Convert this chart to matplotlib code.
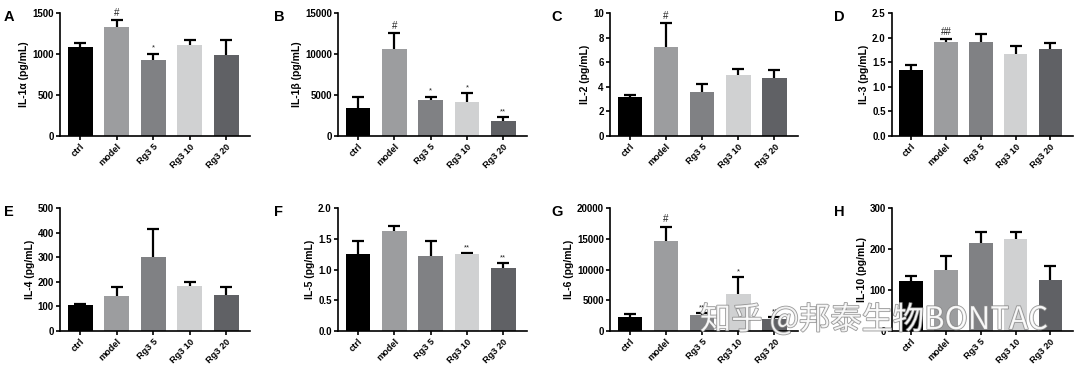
import matplotlib
matplotlib.use('Agg')
import matplotlib.pyplot as plt
import matplotlib.patheffects as pe
import numpy as np

plt.rcParams['font.family'] = ['Liberation Sans', 'DejaVu Sans']
plt.rcParams['font.weight'] = 'bold'

# groups
groups = ['ctrl', 'model', 'Rg3 5', 'Rg3 10', 'Rg3 20']
colors = ['#000000', '#9c9d9f', '#808184', '#d0d1d2', '#606165']

# panel data (mean, error)
il1a = [1087, 1324, 928, 1107, 989]
il1a_err = [53, 94, 77, 66, 176]
il1b = [3370, 10560, 4400, 4190, 1770]
il1b_err = [1400, 2010, 410, 1030, 530]
il2 = [3.17, 7.27, 3.58, 4.97, 4.73]
il2_err = [0.19, 1.91, 0.68, 0.44, 0.60]
il3 = [1.35, 1.91, 1.91, 1.67, 1.76]
il3_err = [0.09, 0.06, 0.16, 0.16, 0.14]
il4 = [105, 141, 299, 181, 145]
il4_err = [5, 38, 117, 20, 34]
il5 = [1.26, 1.63, 1.22, 1.255, 1.02]
il5_err = [0.20, 0.08, 0.24, 0.01, 0.08]
il6 = [2300, 14575, 2575, 6080, 1920]
il6_err = [440, 2410, 300, 2630, 350]
il10 = [121, 150, 214, 224, 124]
il10_err = [14, 34, 28, 18, 35]

# significance marks
marks_a = ['', '#', '*', '', '']
marks_b = ['', '#', '*', '*', '**']
marks_c = ['', '#', '', '', '']
marks_d = ['', '##', '', '', '']
marks_e = ['', '', '', '', '']
marks_f = ['', '', '', '**', '**']
marks_g = ['', '#', '**', '*', '**']
marks_h = ['', '', '', '', '']

panels = [
    ('A', 'IL-1α (pg/mL)', il1a, il1a_err, marks_a, [0, 500, 1000, 1500], 1500),
    ('B', 'IL-1β (pg/mL)', il1b, il1b_err, marks_b, [0, 5000, 10000, 15000], 15000),
    ('C', 'IL-2 (pg/mL)', il2, il2_err, marks_c, [0, 2, 4, 6, 8, 10], 10),
    ('D', 'IL-3 (pg/mL)', il3, il3_err, marks_d, [0.0, 0.5, 1.0, 1.5, 2.0, 2.5], 2.5),
    ('E', 'IL-4 (pg/mL)', il4, il4_err, marks_e, [0, 100, 200, 300, 400, 500], 500),
    ('F', 'IL-5 (pg/mL)', il5, il5_err, marks_f, [0.0, 0.5, 1.0, 1.5, 2.0], 2.0),
    ('G', 'IL-6 (pg/mL)', il6, il6_err, marks_g, [0, 5000, 10000, 15000, 20000], 20000),
    ('H', 'IL-10 (pg/mL)', il10, il10_err, marks_h, [0, 100, 200, 300], 300),
]

fmt = {'D': '%.1f', 'F': '%.1f'}

fig = plt.figure(figsize=(10.8, 3.65), dpi=100)
lefts = [60, 338, 610, 892]
widths = [190, 189, 188, 181]
tops = [13, 208]
label_x = [4, 274, 551, 834]

for i, (lab, ylab, vals, errs, marks, ticks, ymax) in enumerate(panels):
    row, col = divmod(i, 4)
    top = tops[row]
    ax = fig.add_axes([lefts[col] / 1080, 1 - (top + 123) / 365,
                       widths[col] / 1080, 123 / 365])
    x = np.arange(len(groups))
    # errors drawn behind the bars, so only the upper half shows
    ax.errorbar(x, vals, yerr=errs, fmt='none', ecolor='black',
                elinewidth=1.6, capsize=4.5, capthick=1.6, zorder=1)
    ax.bar(x, vals, width=0.68, color=colors, zorder=2)
    for xi, v, e, m in zip(x, vals, errs, marks):
        if m:
            ax.annotate(m, (xi, v + e), xytext=(0, 1.5), textcoords='offset points',
                        ha='center', va='bottom', fontsize=7 if '#' in m else 5.5,
                        fontweight='normal', color='#222222')
    ax.set_xlim(-0.55, 4.65)
    ax.set_ylim(0, ymax)
    ax.set_yticks(ticks)
    if lab in fmt:
        ax.set_yticklabels([fmt[lab] % t for t in ticks])
    ax.set_xticks(x)
    ax.set_xticklabels(groups, rotation=45, ha='right', rotation_mode='anchor')
    ax.tick_params(labelsize=7, width=1.2, length=3, pad=1.5)
    ax.tick_params(axis='x', labelsize=6.6)
    ax.set_ylabel(ylab, fontsize=7.5, fontweight='bold', labelpad=2)
    for s in ['top', 'right']:
        ax.spines[s].set_visible(False)
    for s in ['left', 'bottom']:
        ax.spines[s].set_linewidth(1.2)
    fig.text(label_x[col] / 1080, 1 - (top - 3) / 365, lab, fontsize=10.5,
             fontweight='bold', va='top', ha='left')

# watermark
fig.text(700 / 1080, 1 - 320 / 365, '知乎 @邦泰生物BONTAC', fontsize=22.5,
         family=['Noto Sans CJK SC', 'DejaVu Sans'], fontweight='normal',
         color='white', alpha=0.85, va='center', ha='left',
         path_effects=[pe.withStroke(linewidth=1.2, foreground='#888888')])

fig.savefig('out.png', dpi=100)
